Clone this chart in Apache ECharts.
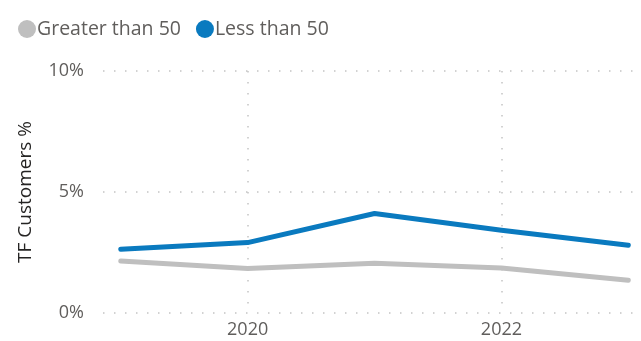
<!DOCTYPE html>
<html>
<head>
<meta charset="utf-8">
<script src="https://cdn.jsdelivr.net/npm/echarts@6/dist/echarts.min.js"></script>
<style>
  html, body { margin: 0; padding: 0; background: #fff; }
  #chart { width: 641px; height: 341px; }
</style>
</head>
<body>
<div id="chart"></div>
<script>
const years = [2019, 2020, 2021, 2022, 2023];
const greaterThan50 = [2.15, 1.84, 2.06, 1.86, 1.35];
const lessThan50 = [2.63, 2.91, 4.11, 3.42, 2.80];
const xTickValues = [2020, 2022];

const chart = echarts.init(document.getElementById('chart'));

const gridDots = { color: '#c4c4c4', width: 1.5, type: [1.5, 9.5] };
const font = 'Open Sans, sans-serif';

const option = {
    animation: false,
    legend: {
        left: 13,
        top: 14,
        icon: 'circle',
        itemWidth: 18,
        itemHeight: 18,
        itemGap: 15,
        textStyle: { color: '#605e5c', fontSize: 19.5, fontFamily: font, padding: [0, 0, 0, -4] },
        data: ['Greater than 50', 'Less than 50']
    },
    grid: { left: 103, right: 0, top: 71, bottom: 28 },
    xAxis: {
        type: 'value',
        min: 2018.86,
        max: 2023.1,
        axisLine: { show: false },
        axisTick: { show: false, customValues: xTickValues },
        axisLabel: {
            customValues: xTickValues,
            color: '#605e5c',
            fontSize: 18,
            fontFamily: font,
            margin: 8,
            formatter: v => String(v)
        },
        splitLine: { show: true, lineStyle: gridDots }
    },
    yAxis: {
        type: 'value',
        min: 0,
        max: 10,
        interval: 5,
        name: 'TF Customers %',
        nameLocation: 'middle',
        nameGap: 68,
        nameTextStyle: { color: '#252423', fontSize: 19, fontFamily: font },
        axisLine: { show: false },
        axisTick: { show: false },
        axisLabel: {
            color: '#605e5c',
            fontSize: 18,
            fontFamily: font,
            margin: 19,
            formatter: '{value}%'
        },
        splitLine: { lineStyle: gridDots }
    },
    series: [
        {
            name: 'Greater than 50',
            type: 'line',
            data: years.map((y, i) => [y, greaterThan50[i]]),
            symbol: 'none',
            itemStyle: { color: '#bfbfbf' },
            lineStyle: { color: '#bfbfbf', width: 5, cap: 'round', join: 'round' }
        },
        {
            name: 'Less than 50',
            type: 'line',
            data: years.map((y, i) => [y, lessThan50[i]]),
            symbol: 'none',
            itemStyle: { color: '#0a7abf' },
            lineStyle: { color: '#0a7abf', width: 5, cap: 'round', join: 'round' }
        }
    ]
};

chart.setOption(option);
</script>
</body>
</html>
